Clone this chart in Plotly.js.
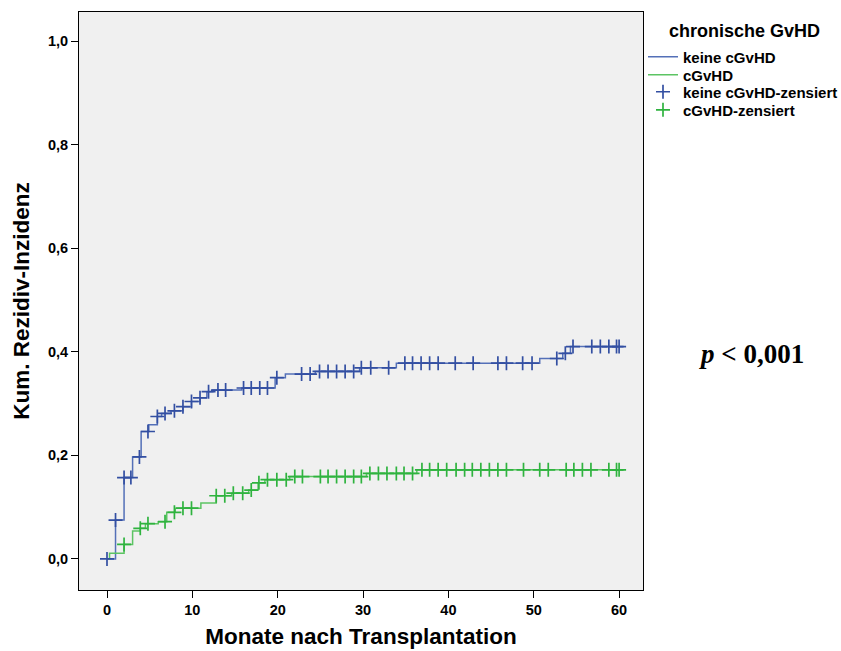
<!DOCTYPE html>
<html>
<head>
<meta charset="utf-8">
<script src="https://cdn.plot.ly/plotly-3.0.1.min.js"></script>
<style>html,body{margin:0;padding:0;background:#fff;}#chart{width:841px;height:651px;}</style>
</head>
<body>
<div id="chart"></div>
<script>
// Step curve: keine cGvHD (blue)
var blueTimes  = [0, 1.0, 2.0, 3.0, 4.0, 4.9, 5.9, 6.4, 7.5, 8.9, 9.9, 10.9, 11.7, 12.4, 15.8, 19.7, 20.9, 24.4, 29.6, 33.9, 50.7, 53.4, 54.3, 60];
var blueValues = [0, 0.075, 0.157, 0.197, 0.246, 0.259, 0.275, 0.281, 0.286, 0.294, 0.304, 0.311, 0.323, 0.326, 0.330, 0.350, 0.357, 0.362, 0.369, 0.378, 0.387, 0.397, 0.410, 0.410];
var blueCensored = [0, 1.0, 2.0, 2.8, 3.8, 4.8, 5.9, 6.8, 7.9, 8.9, 9.9, 10.9, 11.9, 13.0, 13.9, 16.0, 16.9, 17.9, 18.8, 19.9, 22.8, 23.8, 24.9, 25.9, 26.9, 27.9, 28.9, 29.8, 30.9, 33.0, 34.9, 35.8, 36.8, 37.8, 38.8, 40.8, 42.9, 45.8, 46.8, 48.7, 49.8, 52.7, 53.7, 54.6, 56.8, 57.8, 58.8, 59.7, 60];

// Step curve: cGvHD (green)
var greenTimes  = [0, 0.3, 2.0, 3.0, 3.9, 4.5, 6.0, 7.0, 8.0, 11.0, 12.8, 14.6, 16.6, 17.7, 18.5, 21.4, 30.4, 36.3, 60];
var greenValues = [0, 0.011, 0.028, 0.054, 0.059, 0.068, 0.072, 0.090, 0.098, 0.108, 0.122, 0.127, 0.133, 0.147, 0.153, 0.159, 0.165, 0.172, 0.172];
var greenCensored = [2.0, 3.9, 4.8, 6.8, 7.9, 8.9, 9.9, 12.8, 13.8, 14.8, 15.9, 16.9, 17.8, 18.8, 19.9, 21.0, 22.0, 22.9, 25.0, 25.9, 26.9, 27.9, 28.9, 29.8, 30.8, 31.8, 32.8, 33.9, 34.8, 35.8, 36.9, 37.8, 38.8, 39.8, 40.9, 41.9, 42.8, 43.8, 44.8, 45.8, 46.8, 48.8, 50.7, 51.7, 53.8, 54.7, 55.7, 56.7, 58.8, 59.7, 60];

var xTicks = [0, 10, 20, 30, 40, 50, 60];
var yTicks = [0, 0.2, 0.4, 0.6, 0.8, 1.0];
var seriesNames = ['keine cGvHD', 'cGvHD', 'keine cGvHD-zensiert', 'cGvHD-zensiert'];

function stepAt(times, values, t) {
  var v = values[0];
  for (var i = 0; i < times.length; i++) { if (times[i] <= t + 1e-9) v = values[i]; }
  return v;
}

var BLUE = '#334fa2', BLUE_L = '#5470b8';
var GREEN = '#2fb33f', GREEN_L = '#5cc463';
var FONT = 'Liberation Sans, Arial, sans-serif';

var traces = [
  {x: blueTimes, y: blueValues, mode: 'lines', line: {shape: 'hv', color: BLUE_L, width: 1.5}, name: seriesNames[0], legend: 'legend'},
  {x: greenTimes, y: greenValues, mode: 'lines', line: {shape: 'hv', color: GREEN_L, width: 1.5}, name: seriesNames[1], legend: 'legend2'},
  {x: blueCensored, y: blueCensored.map(function(t){return stepAt(blueTimes, blueValues, t);}), mode: 'markers',
   marker: {symbol: 'cross-thin', size: 10, color: BLUE, line: {color: BLUE, width: 1.7}}, name: seriesNames[2], legend: 'legend3'},
  {x: greenCensored, y: greenCensored.map(function(t){return stepAt(greenTimes, greenValues, t);}), mode: 'markers',
   marker: {symbol: 'cross-thin', size: 10, color: GREEN, line: {color: GREEN, width: 1.7}}, name: seriesNames[3], legend: 'legend4'}
];

function legendAt(yPaper) {
  return {x: 1.0, y: yPaper, xanchor: 'left', yanchor: 'middle', bgcolor: 'rgba(0,0,0,0)',
          font: {family: FONT, size: 15, color: '#000', weight: 700}, itemwidth: 30};
}

var layout = {
  width: 841, height: 651,
  margin: {l: 79, r: 198, t: 12, b: 61, autoexpand: false},
  paper_bgcolor: '#ffffff',
  plot_bgcolor: '#f0f0f0',
  separators: ',.',
  showlegend: true,
  xaxis: {
    range: [-3.28, 62.8], tickvals: xTicks, ticks: 'outside', ticklen: 7, tickwidth: 1, tickcolor: '#000',
    showline: true, mirror: true, linecolor: '#000', linewidth: 1, showgrid: false, zeroline: false,
    tickfont: {family: FONT, size: 14.5, color: '#000', weight: 700},
    title: {text: 'Monate nach Transplantation', font: {family: FONT, size: 22.5, color: '#000', weight: 700}, standoff: 10}
  },
  yaxis: {
    range: [-0.06, 1.056], tickvals: yTicks, tickformat: '.1f', ticks: 'outside', ticklen: 7, tickwidth: 1, tickcolor: '#000',
    showline: true, mirror: true, linecolor: '#000', linewidth: 1, showgrid: false, zeroline: false,
    tickfont: {family: FONT, size: 14.5, color: '#000', weight: 700},
    title: {text: 'Kum. Rezidiv-Inzidenz', font: {family: FONT, size: 22.5, color: '#000', weight: 700}, standoff: 12}
  },
  legend: legendAt(0.9221),
  legend2: legendAt(0.891),
  legend3: legendAt(0.8616),
  legend4: legendAt(0.8304),
  annotations: [
    {xref: 'paper', yref: 'paper', x: 1.0426, y: 0.967, xanchor: 'left', yanchor: 'middle', showarrow: false,
     text: 'chronische GvHD', font: {family: FONT, size: 18, color: '#000', weight: 700}},
    {xref: 'paper', yref: 'paper', x: 1.193, y: 0.408, xanchor: 'center', yanchor: 'middle', showarrow: false,
     text: '<i>p</i> < 0,001', font: {family: 'Liberation Serif, Times New Roman, serif', size: 27, color: '#000', weight: 700}}
  ]
};

Plotly.newPlot('chart', traces, layout, {displayModeBar: false, staticPlot: true});
</script>
</body>
</html>
